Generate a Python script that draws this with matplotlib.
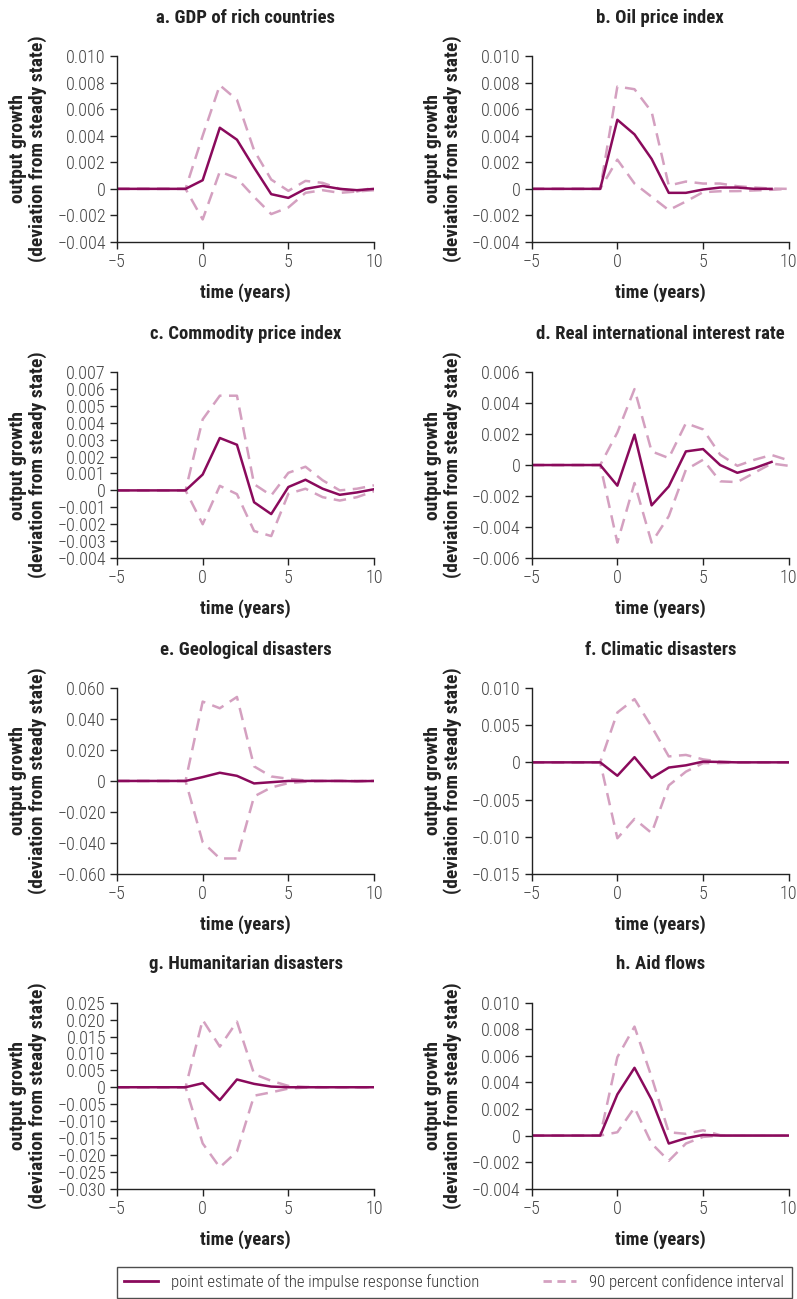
import numpy as np
import matplotlib
matplotlib.use("Agg")
import matplotlib.pyplot as plt
from matplotlib.lines import Line2D

# 窄体字体, 接近原图
plt.rcParams["font.family"] = ["Roboto Condensed", "Archivo Narrow", "DejaVu Sans"]
plt.rcParams["axes.unicode_minus"] = True

# 时间轴 (年)
time = list(range(-5, 11))
nan = np.nan

titles = [
    "a. GDP of rich countries",
    "b. Oil price index",
    "c. Commodity price index",
    "d. Real international interest rate",
    "e. Geological disasters",
    "f. Climatic disasters",
    "g. Humanitarian disasters",
    "h. Aid flows",
]

pre = [0, 0, 0, 0, 0]

# a. GDP of rich countries
a_point = pre + [0.00065, 0.0046, 0.0037, 0.0016, -0.0004, -0.00068, 0.0, 0.00022, 0.0, -0.0001, 0.0]
a_upper = pre + [0.0040, 0.0078, 0.0067, 0.0029, 0.0007, -0.00015, 0.0006, 0.00045, 0.0, -0.0002, 0.0001]
a_lower = pre + [-0.0023, 0.0013, 0.0008, -0.0006, -0.0019, -0.0014, -0.0003, -0.0001, -0.0003, -0.0002, -0.0001]

# b. Oil price index
b_point = pre + [0.0052, 0.0041, 0.00225, -0.0003, -0.0003, -0.00005, 0.0001, 0.0001, 0.0, 0.0, nan]
b_upper = pre + [0.0077, 0.0075, 0.0058, 0.00025, 0.00055, 0.0004, 0.0004, 0.0002, 0.0001, 0.00002, 0.0]
b_lower = pre + [0.0022, 0.0004, -0.0006, -0.0016, -0.00095, -0.00025, -0.00018, -0.00017, -0.00012, -0.00007, 0.0]

# c. Commodity price index
c_point = pre + [0.00094, 0.0031, 0.0027, -0.0007, -0.0014, 0.0002, 0.00063, 0.0001, -0.00026, -0.00012, 0.00007]
c_upper = pre + [0.0042, 0.0056, 0.0056, 0.00037, -0.0003, 0.00104, 0.0014, 0.0006, 0.0, 0.0001, 0.0003]
c_lower = pre + [-0.002, 0.00027, -0.00022, -0.0024, -0.0027, -0.0002, 0.0001, -0.0004, -0.0006, -0.0004, -0.00005]

# d. Real international interest rate
d_point = pre + [-0.00133, 0.00196, -0.0026, -0.00138, 0.00088, 0.00103, 0.0, -0.0005, -0.0002, 0.0002, nan]
d_upper = pre + [0.0021, 0.0049, 0.00088, 0.00045, 0.0027, 0.0023, 0.00067, -0.00005, 0.00034, 0.00065, 0.0003]
d_lower = pre + [-0.005, -0.00116, -0.005, -0.0033, -0.0003, 0.00034, -0.00105, -0.0011, -0.0005, 0.0001, -0.00005]

# e. Geological disasters
e_point = pre + [0.0025, 0.0053, 0.0033, -0.0016, -0.0008, 0.0, 0.0, 0.0, 0.0, -0.0002, 0.0]
e_upper = pre + [0.0512, 0.0469, 0.0542, 0.0094, 0.0029, 0.0014, 0.0003, 0.0, 0.0, 0.0, 0.0]
e_lower = pre + [-0.0395, -0.050, -0.050, -0.010, -0.0042, -0.0014, -0.0005, 0.0, 0.0, 0.0, 0.0]

# f. Climatic disasters
f_point = pre + [-0.0018, 0.0007, -0.0021, -0.0007, -0.0004, 0.0001, 0.00005, 0.0, 0.0, 0.0, 0.0]
f_upper = pre + [0.0067, 0.0085, 0.0048, 0.0008, 0.001, 0.0004, 0.0001, 0.0, 0.0, 0.0, 0.0]
f_lower = pre + [-0.0102, -0.0076, -0.0095, -0.0031, -0.00125, -0.0001, -0.0001, 0.0, 0.0, 0.0, 0.0]

# g. Humanitarian disasters
g_point = pre + [0.0012, -0.0038, 0.0023, 0.001, 0.0002, 0.0, 0.0, 0.0, 0.0, 0.0, 0.0]
g_upper = pre + [0.0199, 0.012, 0.0194, 0.0039, 0.0019, 0.0004, 0.0001, 0.0, 0.0, 0.0, 0.0]
g_lower = pre + [-0.0166, -0.0237, -0.019, -0.0025, -0.0015, -0.0004, -0.0001, 0.0, 0.0, 0.0, 0.0]

# h. Aid flows
h_point = pre + [0.0031, 0.0051, 0.0027, -0.0006, -0.0002, 0.00005, 0.0, 0.0, 0.0, 0.0, 0.0]
h_upper = pre + [0.0059, 0.0082, 0.0044, 0.00025, 0.00013, 0.0004, 0.00003, 0.0, 0.0, 0.0, 0.0]
h_lower = pre + [0.00025, 0.0021, -0.0006, -0.0019, -0.0006, -0.0001, 0.0, 0.0, 0.0, 0.0, 0.0]

points = [a_point, b_point, c_point, d_point, e_point, f_point, g_point, h_point]
uppers = [a_upper, b_upper, c_upper, d_upper, e_upper, f_upper, g_upper, h_upper]
lowers = [a_lower, b_lower, c_lower, d_lower, e_lower, f_lower, g_lower, h_lower]

# y 轴刻度
yticks = [
    [0.010, 0.008, 0.006, 0.004, 0.002, 0, -0.002, -0.004],
    [0.010, 0.008, 0.006, 0.004, 0.002, 0, -0.002, -0.004],
    [0.007, 0.006, 0.005, 0.004, 0.003, 0.002, 0.001, 0, -0.001, -0.002, -0.003, -0.004],
    [0.006, 0.004, 0.002, 0, -0.002, -0.004, -0.006],
    [0.060, 0.040, 0.020, 0, -0.020, -0.040, -0.060],
    [0.010, 0.005, 0, -0.005, -0.010, -0.015],
    [0.025, 0.020, 0.015, 0.010, 0.005, 0, -0.005, -0.010, -0.015, -0.020, -0.025, -0.030],
    [0.010, 0.008, 0.006, 0.004, 0.002, 0, -0.002, -0.004],
]

COLORS = {"point": "#8a0a5c", "ci": "#d4a0c0", "tick": "#444444", "text": "#222222"}

fig = plt.figure(figsize=(7.97, 12.99), dpi=100)

lefts = [0.1468, 0.6671]
bottoms = [0.8137, 0.5704, 0.3272, 0.0849]
w, h = 0.3225, 0.1432


def fmt(v, ndec):
    if v == 0:
        return "0"
    s = f"{abs(v):.{ndec}f}"
    return ("\u2212" if v < 0 else "") + s


for i in range(8):
    ax = fig.add_axes([lefts[i % 2], bottoms[i // 2], w, h])
    ax.plot(time, uppers[i], color=COLORS["ci"], lw=1.8, ls=(0, (5, 3)))
    ax.plot(time, lowers[i], color=COLORS["ci"], lw=1.8, ls=(0, (5, 3)))
    ax.plot(time, points[i], color=COLORS["point"], lw=1.8)

    yt = yticks[i]
    ax.set_xlim(-5, 10)
    ax.set_ylim(min(yt), max(yt))
    ax.set_xticks([-5, 0, 5, 10])
    ax.set_xticklabels([fmt(v, 0) for v in [-5, 0, 5, 10]], fontweight=300)
    ax.set_yticks(yt)
    ax.set_yticklabels([fmt(v, 3) for v in yt], fontweight=300)

    for side in ["top", "right"]:
        ax.spines[side].set_visible(False)
    for side in ["left", "bottom"]:
        ax.spines[side].set_linewidth(1.0)
        ax.spines[side].set_color("#222222")
    ax.tick_params(direction="out", length=5, width=1, color="#222222",
                   labelsize=13, labelcolor=COLORS["tick"], pad=3)

    ax.set_title(titles[i], fontsize=13.5, fontweight="bold", color=COLORS["text"], pad=24)
    ax.set_xlabel("time (years)", fontsize=13.5, fontweight="bold", color=COLORS["text"], labelpad=9)
    ax.set_ylabel("output growth\n(deviation from steady state)", fontsize=14,
                  fontweight="bold", color=COLORS["text"], labelpad=7, linespacing=1.1)

handles = [
    Line2D([], [], color=COLORS["point"], lw=2),
    Line2D([], [], color=COLORS["ci"], lw=2, ls=(0, (3, 2))),
]
leg = fig.legend(handles, ["point estimate of the impulse response function", "90 percent confidence interval"],
                 loc="lower left", bbox_to_anchor=(117 / 797, 0.001, (792 - 117) / 797, 33 / 1299),
                 mode="expand", ncol=2, frameon=True, borderaxespad=0,
                 prop={"size": 12, "weight": 300}, handlelength=2.0, columnspacing=2.5, borderpad=0.45,
                 fancybox=False, edgecolor="#222222")
leg.get_frame().set_linewidth(1.0)
for t in leg.get_texts():
    t.set_color("#333333")

fig.savefig("out.png", dpi=100)
